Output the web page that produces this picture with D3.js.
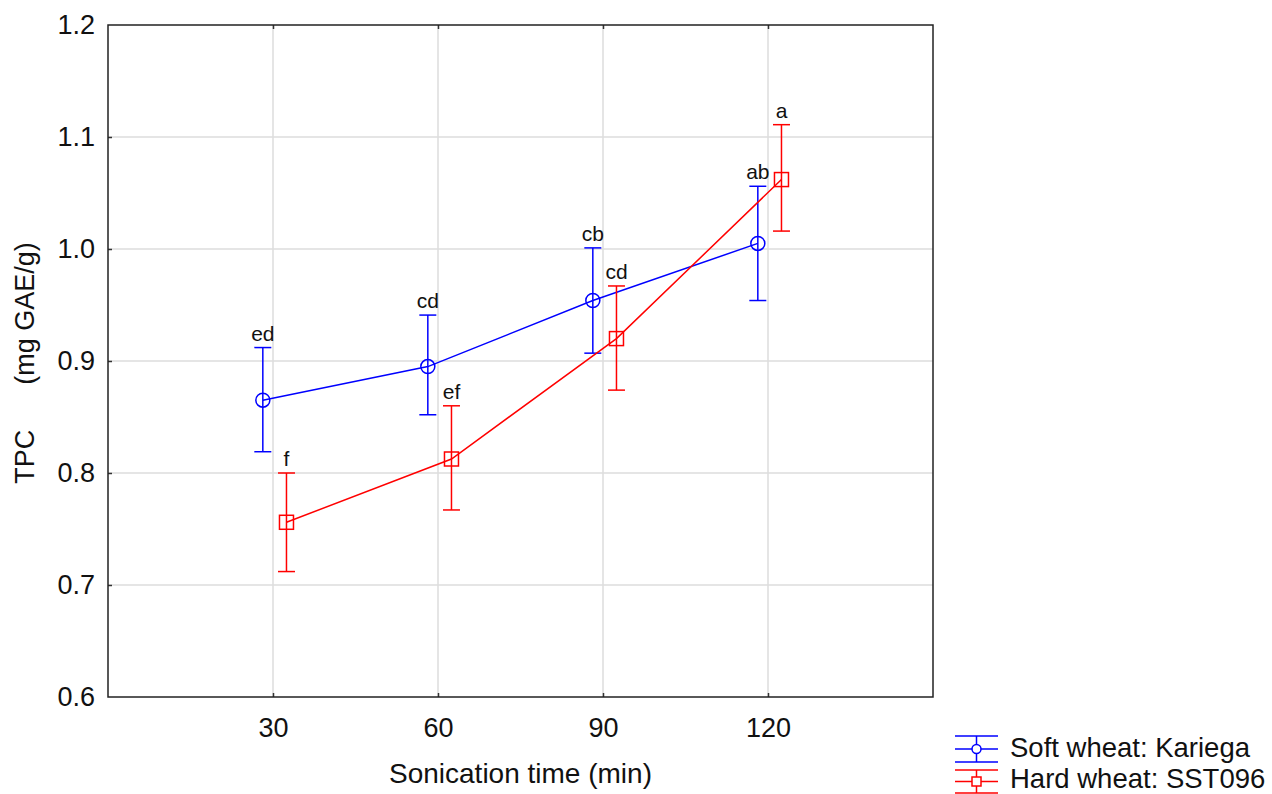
<!DOCTYPE html>
<html>
<head>
<meta charset="utf-8">
<script src="https://cdn.jsdelivr.net/npm/d3@7"></script>
<style>
  body { margin: 0; background: #fff; }
  svg { font-family: "Liberation Sans", Arial, sans-serif; }
</style>
</head>
<body>
<div id="chart"></div>
<script>
// sonication times (min)
var times = [30, 60, 90, 120];

// Soft wheat: Kariega
var softMean = [0.865, 0.895, 0.954, 1.005];
var softLow = [0.819, 0.852, 0.907, 0.954];
var softHigh = [0.912, 0.941, 1.001, 1.056];
var softLabels = ["ed", "cd", "cb", "ab"];

// Hard wheat: SST096
var hardMean = [0.756, 0.8125, 0.920, 1.062];
var hardLow = [0.712, 0.767, 0.874, 1.016];
var hardHigh = [0.800, 0.860, 0.967, 1.111];
var hardLabels = ["f", "ef", "cd", "a"];

var yTicks = [0.6, 0.7, 0.8, 0.9, 1.0, 1.1, 1.2];
var seriesNames = ["Soft wheat: Kariega", "Hard wheat: SST096"];

var width = 1272,
    height = 794,
    margin = { top: 25, right: 339, bottom: 97, left: 108 },
    plotW = width - margin.left - margin.right,
    plotH = height - margin.top - margin.bottom,
    textColor = "#111";

var svg = d3.select("#chart").append("svg")
    .attr("width", width)
    .attr("height", height);

var g = svg.append("g")
    .attr("transform", "translate(" + margin.left + "," + margin.top + ")");

var x = d3.scaleLinear().domain([0, 150]).range([0, plotW]),
    y = d3.scaleLinear().domain([0.6, 1.2]).range([plotH, 0]);

// grid
g.selectAll(".gx").data(times).enter().append("line")
    .attr("x1", function (d) { return x(d); })
    .attr("x2", function (d) { return x(d); })
    .attr("y1", 0).attr("y2", plotH)
    .attr("stroke", "#dcdcdc").attr("stroke-width", 1.5);
g.selectAll(".gy").data(yTicks.slice(1, -1)).enter().append("line")
    .attr("y1", function (d) { return y(d); })
    .attr("y2", function (d) { return y(d); })
    .attr("x1", 0).attr("x2", plotW)
    .attr("stroke", "#dcdcdc").attr("stroke-width", 1.5);

// axes
var yAxis = d3.axisLeft(y).tickValues(yTicks).tickFormat(d3.format(".1f")).tickSizeInner(-4).tickSizeOuter(0).tickPadding(13);
var xAxis = d3.axisBottom(x).tickValues(times).tickSizeInner(-4).tickSizeOuter(0).tickPadding(21);

var ya = g.append("g").call(yAxis);
var xa = g.append("g").attr("transform", "translate(0," + plotH + ")").call(xAxis);
var xt = g.append("g").call(d3.axisTop(x).tickValues(times).tickSizeInner(-4).tickSizeOuter(0).tickFormat(""));
[ya, xa, xt].forEach(function (a) {
    a.select(".domain").remove();
    a.selectAll(".tick line").attr("stroke", "#333").attr("stroke-width", 1.5);
    a.selectAll("text").attr("font-size", 27).attr("fill", textColor)
        .attr("font-family", "Liberation Sans, Arial, sans-serif");
});
ya.selectAll(".tick").filter(function (d) { return d === 0.6 || d === 1.2; }).select("line").remove();

// frame
g.append("rect")
    .attr("x", 0).attr("y", 0)
    .attr("width", plotW).attr("height", plotH)
    .attr("fill", "none").attr("stroke", "#222").attr("stroke-width", 1.5);

function series(mean, low, high, labels, offset, color, shape) {
    var data = times.map(function (t, i) {
        return { t: t + offset, m: mean[i], lo: low[i], hi: high[i], lab: labels[i] };
    });
    var s = g.append("g");
    s.append("path").datum(data)
        .attr("fill", "none").attr("stroke", color).attr("stroke-width", 1.5)
        .attr("d", d3.line().x(function (d) { return x(d.t); }).y(function (d) { return y(d.m); }));
    var e = s.selectAll(".eb").data(data).enter().append("g");
    e.append("line")
        .attr("x1", function (d) { return x(d.t); }).attr("x2", function (d) { return x(d.t); })
        .attr("y1", function (d) { return y(d.lo); }).attr("y2", function (d) { return y(d.hi); })
        .attr("stroke", color).attr("stroke-width", 1.5);
    ["lo", "hi"].forEach(function (k) {
        e.append("line")
            .attr("x1", function (d) { return x(d.t) - 8.5; }).attr("x2", function (d) { return x(d.t) + 8.5; })
            .attr("y1", function (d) { return y(d[k]); }).attr("y2", function (d) { return y(d[k]); })
            .attr("stroke", color).attr("stroke-width", 1.5);
    });
    if (shape === "circle") {
        e.append("circle")
            .attr("cx", function (d) { return x(d.t); }).attr("cy", function (d) { return y(d.m); })
            .attr("r", 7).attr("fill", "none").attr("stroke", color).attr("stroke-width", 1.5);
    } else {
        e.append("rect")
            .attr("x", function (d) { return x(d.t) - 7; }).attr("y", function (d) { return y(d.m) - 7; })
            .attr("width", 14).attr("height", 14)
            .attr("fill", "none").attr("stroke", color).attr("stroke-width", 1.5);
    }
    e.append("text")
        .attr("x", function (d) { return x(d.t); })
        .attr("y", function (d) { return y(d.hi) - 7; })
        .attr("text-anchor", "middle").attr("font-size", 21).attr("fill", textColor)
        .text(function (d) { return d.lab; });
}

series(softMean, softLow, softHigh, softLabels, -1.85, "#0000ff", "circle");
series(hardMean, hardLow, hardHigh, hardLabels, 2.45, "#ff0000", "square");

// axis titles
svg.append("text")
    .attr("x", margin.left + plotW / 2).attr("y", 783)
    .attr("text-anchor", "middle").attr("font-size", 28).attr("fill", textColor)
    .text("Sonication time (min)");
svg.append("text")
    .attr("transform", "translate(34,363) rotate(-90)")
    .attr("text-anchor", "middle").attr("font-size", 27).attr("fill", textColor)
    .style("white-space", "pre")
    .text("TPC      (mg GAE/g)");

// legend (the second row is squeezed against the bottom edge, as in the original)
var legend = svg.append("g").attr("transform", "translate(955,736)");
var legendItems = [
    { name: seriesNames[0], color: "#0000ff", shape: "circle", top: 0, h: 26, ty: 21 },
    { name: seriesNames[1], color: "#ff0000", shape: "square", top: 34, h: 23, ty: 18 }
];
legendItems.forEach(function (it) {
    var lg = legend.append("g").attr("transform", "translate(0," + it.top + ")"),
        mid = it.h / 2;
    [0, mid, it.h].forEach(function (yy) {
        lg.append("line").attr("x1", 0).attr("x2", 43).attr("y1", yy).attr("y2", yy)
            .attr("stroke", it.color).attr("stroke-width", 1.5);
    });
    lg.append("line").attr("x1", 21.5).attr("x2", 21.5).attr("y1", 0).attr("y2", it.h)
        .attr("stroke", it.color).attr("stroke-width", 1.5);
    if (it.shape === "circle") {
        lg.append("circle").attr("cx", 21.5).attr("cy", mid).attr("r", 4.5)
            .attr("fill", "#fff").attr("stroke", it.color).attr("stroke-width", 1.5);
    } else {
        lg.append("rect").attr("x", 17).attr("y", mid - 4.5).attr("width", 9).attr("height", 9)
            .attr("fill", "#fff").attr("stroke", it.color).attr("stroke-width", 1.5);
    }
    lg.append("text").attr("x", 55).attr("y", it.ty)
        .attr("font-size", 27.5).attr("fill", textColor).text(it.name);
});
</script>
</body>
</html>
